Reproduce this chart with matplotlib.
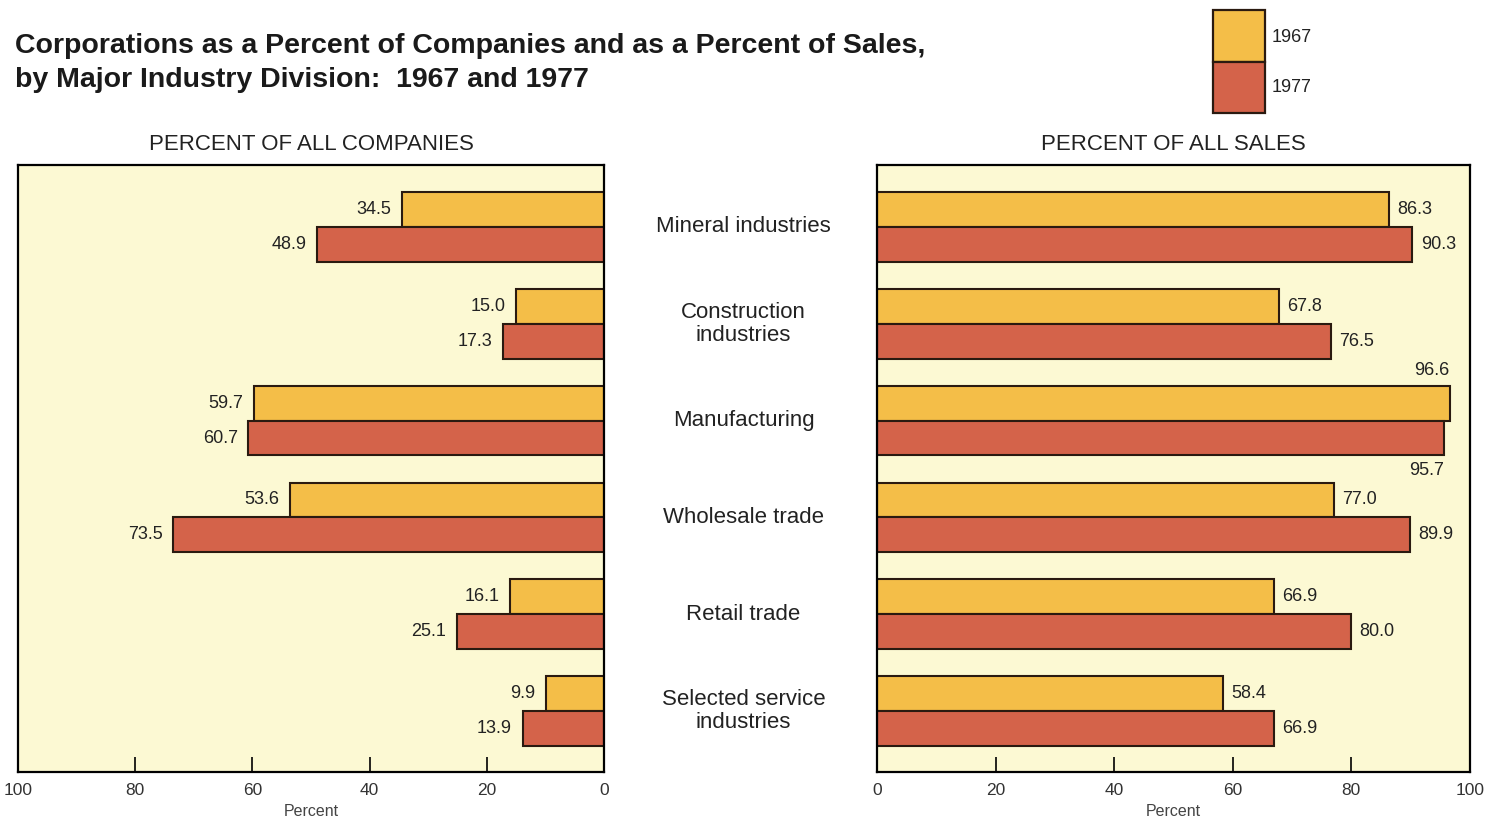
import matplotlib.pyplot as plt
from matplotlib.patches import Rectangle
import numpy as np

plt.rcParams['font.family'] = ['Liberation Sans', 'DejaVu Sans']

categories = ["Mineral industries", "Construction\nindustries", "Manufacturing",
              "Wholesale trade", "Retail trade", "Selected service\nindustries"]
years = ["1967", "1977"]
companies_1967 = [34.5, 15.0, 59.7, 53.6, 16.1, 9.9]
companies_1977 = [48.9, 17.3, 60.7, 73.5, 25.1, 13.9]
sales_1967 = [86.3, 67.8, 96.6, 77.0, 66.9, 58.4]
sales_1977 = [90.3, 76.5, 95.7, 89.9, 80.0, 66.9]
xticks = [0, 20, 40, 60, 80, 100]

c67 = '#F4BE48'
c77 = '#D4634A'
bg = '#FCF9D3'

fig = plt.figure(figsize=(14.99, 8.25), dpi=100)
ax1 = fig.add_axes([0.012, 0.0642, 0.391, 0.7358])
ax2 = fig.add_axes([0.585, 0.0642, 0.3956, 0.7358])

y = np.arange(len(categories))
h = 0.36

def setup(ax, title):
    ax.set_facecolor(bg)
    ax.set_xlim(0, 100)
    ax.set_ylim(5.63, -0.64)
    ax.set_yticks([])
    ax.set_xticks(xticks)
    ax.set_xticklabels([str(t) for t in xticks], fontsize=12.5, color='#333333')
    ax.tick_params(axis='x', direction='in', length=11, width=1.2, pad=8)
    for s in ax.spines.values():
        s.set_linewidth(1.6)
    ax.set_xlabel("Percent", fontsize=11.5, color='#444444', labelpad=4)
    ax.set_title(title, fontsize=16, pad=11, color='#222222')

setup(ax1, "PERCENT OF ALL COMPANIES")
setup(ax2, "PERCENT OF ALL SALES")
ax1.set_xlim(100, 0)

ax1.barh(y - h / 2, companies_1967, height=h, color=c67, edgecolor='#2a1a10', linewidth=1.5)
ax1.barh(y + h / 2, companies_1977, height=h, color=c77, edgecolor='#2a1a10', linewidth=1.5)
ax2.barh(y - h / 2, sales_1967, height=h, color=c67, edgecolor='#2a1a10', linewidth=1.5)
ax2.barh(y + h / 2, sales_1977, height=h, color=c77, edgecolor='#2a1a10', linewidth=1.5)

for i in range(len(categories)):
    ax1.text(companies_1967[i] + 1.8, y[i] - h / 2, f"{companies_1967[i]:.1f}",
             ha='right', va='center', fontsize=13, color='#222222')
    ax1.text(companies_1977[i] + 1.8, y[i] + h / 2, f"{companies_1977[i]:.1f}",
             ha='right', va='center', fontsize=13, color='#222222')
    if sales_1967[i] > 92:
        ax2.text(sales_1967[i], y[i] - h - 0.07, f"{sales_1967[i]:.1f}",
                 ha='right', va='bottom', fontsize=13, color='#222222')
        ax2.text(sales_1977[i], y[i] + h + 0.07, f"{sales_1977[i]:.1f}",
                 ha='right', va='top', fontsize=13, color='#222222')
    else:
        ax2.text(sales_1967[i] + 1.4, y[i] - h / 2, f"{sales_1967[i]:.1f}",
                 ha='left', va='center', fontsize=13, color='#222222')
        ax2.text(sales_1977[i] + 1.4, y[i] + h / 2, f"{sales_1977[i]:.1f}",
                 ha='left', va='center', fontsize=13, color='#222222')

# category labels between the panels
for i, cat in enumerate(categories):
    yy = ax1.transData.transform((0, y[i]))[1]
    yf = fig.transFigure.inverted().transform((0, yy))[1]
    fig.text(0.496, yf, cat, ha='center', va='center', fontsize=16,
             color='#222222', linespacing=1.1)

fig.text(0.010, 0.944, "Corporations as a Percent of Companies and as a Percent of Sales,",
         fontsize=20.5, fontweight='bold', color='#1a1a1a', va='center')
fig.text(0.010, 0.903, "by Major Industry Division:  1967 and 1977",
         fontsize=20.5, fontweight='bold', color='#1a1a1a', va='center')

# legend
lx, lw = 1213 / 1499, 52 / 1499
fig.patches.append(Rectangle((lx, 1 - 62 / 825), lw, 52 / 825, transform=fig.transFigure,
                             facecolor=c67, edgecolor='#2a1a10', linewidth=1.6))
fig.patches.append(Rectangle((lx, 1 - 113 / 825), lw, 51 / 825, transform=fig.transFigure,
                             facecolor=c77, edgecolor='#2a1a10', linewidth=1.6))
fig.text(1272 / 1499, 1 - 38 / 825, years[0], fontsize=13, va='center', color='#222222')
fig.text(1272 / 1499, 1 - 87 / 825, years[1], fontsize=13, va='center', color='#222222')

fig.savefig("out.png", dpi=100, facecolor='white')
